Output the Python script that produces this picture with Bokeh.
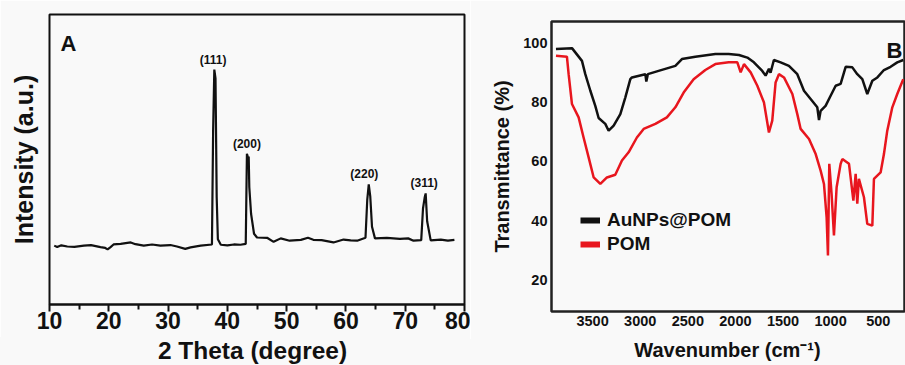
from bokeh.plotting import figure
from bokeh.layouts import row, column
from bokeh.models import Range1d, FixedTicker, Label, Legend, LegendItem, Div
from bokeh.embed import file_html
from bokeh.resources import INLINE
from bokeh.core.properties import value

# ---------------- Panel A : XRD data ----------------
xrd_2theta = [10.8, 11.3, 12.0, 13.0, 14.2, 15.8, 17.0, 18.6, 19.4, 19.8, 20.3, 20.8, 22.0, 23.7,
              24.5, 25.9, 27.3, 28.7, 30.4, 31.5, 32.9, 33.8, 35.5, 37.4, 37.6, 37.8, 38.0, 38.2,
              38.4, 38.9, 40.0, 41.1, 42.2, 43.1, 43.3, 43.5, 43.6, 43.7, 44.0, 44.5, 45.0, 46.7,
              47.8, 49.0, 50.5, 52.4, 53.6, 54.5, 55.9, 57.9, 59.6, 60.8, 61.9, 63.3, 63.6, 63.85,
              64.1, 64.4, 64.9, 66.9, 69.1, 70.5, 71.4, 72.7, 73.0, 73.3, 73.45, 73.7, 74.3, 76.0,
              77.2, 78.3]
xrd_intensity = [20.3, 19.8, 20.4, 20.0, 19.9, 20.3, 20.5, 19.8, 19.5, 19.0, 19.8, 20.7, 20.9, 21.4,
                 20.8, 20.3, 20.7, 20.3, 20.5, 20.0, 19.2, 19.7, 20.3, 20.7, 60.0, 81.0, 78.0, 37.0,
                 22.5, 20.6, 20.4, 20.7, 20.6, 20.9, 52.0, 50.5, 51.0, 40.5, 31.3, 24.4, 23.1, 23.0,
                 21.6, 22.8, 22.0, 22.3, 23.0, 22.3, 22.2, 21.4, 22.4, 22.1, 22.0, 23.0, 36.2, 41.4,
                 37.4, 26.8, 22.8, 23.0, 22.6, 22.8, 22.0, 22.2, 33.1, 37.1, 38.3, 28.7, 22.1, 22.4,
                 22.0, 22.3]
peak_labels = ["(111)", "(200)", "(220)", "(311)"]
peak_2theta = [37.6, 43.3, 63.1, 73.2]
peak_height = [81.0, 52.0, 41.4, 38.3]
xrd_ticks = [10, 20, 30, 40, 50, 60, 70, 80]
xrd_minor = [15, 25, 35, 45, 55, 65, 75]

# ---------------- Panel B : FTIR data ----------------
aunp_wn = [3885, 3717, 3612, 3577, 3524, 3472, 3437, 3367, 3332, 3279, 3209, 3157, 3104, 3087,
           2946, 2936, 2920, 2807, 2631, 2562, 2421, 2211, 2071, 1963, 1875, 1806, 1718, 1683,
           1648, 1631, 1596, 1525, 1438, 1350, 1280, 1210, 1140, 1122, 1105, 1053, 1000, 947,
           895, 842, 772, 720, 667, 615, 562, 509, 440, 370, 300, 237]
aunp_T = [98.0, 98.3, 94.0, 89.5, 83.9, 78.8, 74.7, 72.7, 70.4, 72.1, 76.0, 81.6, 87.8, 88.4,
          89.5, 87.0, 89.5, 90.6, 92.3, 94.6, 95.4, 96.3, 96.3, 96.0, 95.1, 93.5, 90.6, 89.0,
          91.3, 90.0, 94.3, 93.5, 92.3, 89.5, 83.9, 81.1, 78.3, 74.0, 77.1, 78.8, 82.2, 85.6,
          86.2, 92.0, 91.8, 89.5, 87.8, 82.8, 87.3, 88.4, 90.9, 92.0, 93.5, 94.3]
pom_wn = [3885, 3770, 3752, 3717, 3647, 3595, 3542, 3489, 3419, 3350, 3262, 3192, 3122, 3035,
          2964, 2841, 2720, 2631, 2544, 2439, 2316, 2211, 2071, 1980, 1945, 1910, 1840, 1770,
          1700, 1648, 1613, 1578, 1543, 1490, 1402, 1350, 1315, 1227, 1157, 1105, 1070, 1042,
          1028, 1014, 990, 965, 937, 895, 877, 807, 761, 737, 720, 703, 650, 615, 562, 545,
          475, 440, 405, 352, 300, 265, 237]
pom_T = [95.7, 95.4, 89.5, 79.4, 74.9, 68.1, 61.4, 54.6, 52.4, 54.6, 55.5, 60.3, 63.1, 68.1,
         71.0, 72.7, 74.9, 78.3, 83.3, 87.8, 90.9, 92.9, 93.5, 93.5, 90.1, 92.9, 90.1, 85.6,
         79.9, 69.8, 73.8, 86.7, 89.5, 88.4, 82.8, 76.0, 71.0, 67.6, 62.5, 56.9, 52.4, 41.1,
         28.2, 59.2, 49.0, 35.0, 51.3, 59.2, 60.8, 59.2, 46.8, 55.8, 45.7, 54.1, 47.9, 38.9,
         38.3, 54.1, 56.3, 62.5, 70.4, 78.3, 82.8, 85.6, 87.8]
ftir_ticks = [3500, 3000, 2500, 2000, 1500, 1000, 500]
ftir_yticks = [20, 40, 60, 80, 100]
series_names = ["AuNPs@POM", "POM"]

FONT = "Liberation Sans"
BG = "#f9f9f9"
RED = "#e8161e"
INK = "#111111"
NAN = float("nan")

# ================= Panel A =================
pA = figure(width=470, height=337, x_range=Range1d(10, 80), y_range=Range1d(0, 100),
            output_backend="svg", toolbar_location=None,
            min_border_left=49, min_border_right=6, min_border_top=14, min_border_bottom=33)
pA.background_fill_color = BG
pA.border_fill_color = BG
pA.outline_line_color = INK
pA.outline_line_width = 2
pA.grid.visible = False

xa = pA.xaxis[0]
xa.ticker = FixedTicker(ticks=xrd_ticks, minor_ticks=xrd_minor)
xa.axis_line_color = INK
xa.axis_line_width = 2
xa.major_tick_in = 0
xa.major_tick_out = 7
xa.minor_tick_in = 0
xa.minor_tick_out = 5
xa.major_tick_line_width = 2
xa.minor_tick_line_width = 2
xa.major_tick_line_color = INK
xa.minor_tick_line_color = INK
xa.major_label_text_font = FONT
xa.major_label_text_font_style = "bold"
xa.major_label_text_font_size = "23px"
xa.major_label_text_color = INK
xa.major_label_standoff = 0

ya = pA.yaxis[0]
ya.ticker = FixedTicker(ticks=[])
ya.axis_line_color = None
ya.major_tick_out = 0
ya.major_tick_in = 0
ya.minor_tick_out = 0
ya.minor_tick_in = 0
ya.major_label_standoff = 0
ya.axis_label = "Intensity (a.u.)"
ya.axis_label_text_font = FONT
ya.axis_label_text_font_style = "bold"
ya.axis_label_text_font_size = "25px"
ya.axis_label_text_color = INK
ya.axis_label_standoff = 12

pA.line(xrd_2theta, xrd_intensity, line_color=INK, line_width=2.2)
pA.text(x=peak_2theta, y=peak_height, text=peak_labels, text_font=value(FONT),
        text_font_style="bold", text_font_size="12px", text_color=INK,
        text_align="center", text_baseline="bottom", y_offset=-3)
pA.add_layout(Label(x=11, y=261, x_units="screen", y_units="screen", text="A",
                    text_font=FONT, text_font_style="bold", text_font_size="22px",
                    text_color=INK, text_baseline="alphabetic"))

divA = Div(text=('<div style="font-family:\'Liberation Sans\';font-weight:bold;font-size:24.5px;'
                 'line-height:28px;white-space:nowrap;color:#111;width:415px;margin-left:45px;'
                 'text-align:center;">2 Theta (degree)</div>'),
           width=470, height=28,
           styles={"overflow": "hidden", "background-color": BG, "margin": "0", "padding": "0"})

# ================= Panel B =================
pB = figure(width=435, height=339, x_range=Range1d(3932, 224), y_range=Range1d(9.3, 107.3),
            output_backend="svg", toolbar_location=None,
            min_border_left=81, min_border_right=1, min_border_top=21, min_border_bottom=28)
pB.background_fill_color = BG
pB.border_fill_color = BG
pB.outline_line_color = "#222222"
pB.outline_line_width = 2.5
pB.grid.visible = False
for ax, ticks in ((pB.xaxis[0], ftir_ticks), (pB.yaxis[0], ftir_yticks)):
    ax.ticker = FixedTicker(ticks=ticks)
    ax.axis_line_color = None
    ax.major_tick_in = 0
    ax.major_tick_out = 0
    ax.minor_tick_in = 0
    ax.minor_tick_out = 0
    ax.major_label_text_font = FONT
    ax.major_label_text_font_style = "bold"
    ax.major_label_text_font_size = "14.5px"
    ax.major_label_text_color = INK
pB.xaxis[0].major_label_standoff = 4
pB.yaxis[0].major_label_standoff = 4
pB.yaxis[0].axis_label = "Transmittance (%)"
pB.yaxis[0].axis_label_text_font = FONT
pB.yaxis[0].axis_label_text_font_style = "bold"
pB.yaxis[0].axis_label_text_font_size = "20px"
pB.yaxis[0].axis_label_text_color = INK
pB.yaxis[0].axis_label_standoff = 7

pB.line(aunp_wn, aunp_T, line_color=INK, line_width=2.5)
pB.line(pom_wn, pom_T, line_color=RED, line_width=2.5)

# legend samples: thick lines whose points are NaN (nothing drawn in the frame)
leg_k = pB.line([NAN, NAN], [NAN, NAN], line_color=INK, line_width=6)
leg_r = pB.line([NAN, NAN], [NAN, NAN], line_color=RED, line_width=6)
legend = Legend(items=[LegendItem(label=series_names[0], renderers=[leg_k]),
                       LegendItem(label=series_names[1], renderers=[leg_r])],
                location=(29, 56), background_fill_alpha=0, border_line_color=None,
                padding=0, margin=0, spacing=2, glyph_width=20, glyph_height=20,
                label_height=20, label_standoff=7, label_text_font=FONT,
                label_text_font_style="bold", label_text_font_size="19px",
                label_text_color=INK)
pB.add_layout(legend)

pB.add_layout(Label(x=335, y=261, x_units="screen", y_units="screen", text="B",
                    text_font=FONT, text_font_style="bold", text_font_size="22px",
                    text_color=INK, text_baseline="alphabetic"))

divB = Div(text=('<div style="font-family:\'Liberation Sans\';font-weight:bold;font-size:20px;'
                 'line-height:23px;white-space:nowrap;color:#111;width:353px;margin-left:81px;'
                 'text-align:center;">Wavenumber (cm\u207b\u00b9)</div>'),
           width=435, height=26,
           styles={"overflow": "hidden", "background-color": BG, "margin": "0", "padding": "0"})

layout = row(column(pA, divA, spacing=0), column(pB, divB, spacing=0), spacing=0)
open("out.html", "w").write(file_html(layout, INLINE))
